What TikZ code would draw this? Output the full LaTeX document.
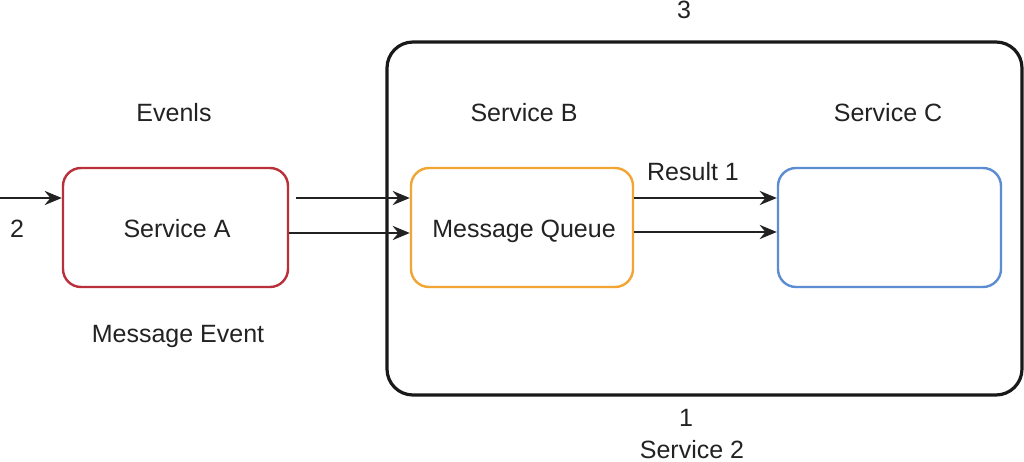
\documentclass[tikz,border=0pt]{standalone}
\usepackage{fontspec}
\setmainfont{Liberation Sans}
\usetikzlibrary{arrows.meta}
\definecolor{cred}{RGB}{185,48,58}
\definecolor{corange}{RGB}{242,165,50}
\definecolor{cblue}{RGB}{92,140,210}
\definecolor{ctext}{RGB}{34,34,34}
\tikzset{
  box/.style={draw, line width=2.4pt, rounded corners=18pt, inner sep=0pt},
  lbl/.style={text=ctext, font=\fontsize{25}{29}\selectfont, inner sep=0pt, anchor=base},
  arr/.style={-{Stealth[length=17pt,width=14pt]}, line width=2.8pt, draw=ctext},
}
\begin{document}
\begin{tikzpicture}[x=1pt,y=-1pt]
\useasboundingbox[fill=white] (0,0) rectangle (1024,462);
\node[box, draw=black!90, line width=3.2pt, rounded corners=26pt, minimum width=635pt, minimum height=353pt] (outer) at (704.5,218.5) {};
\node[box, draw=cred, minimum width=225pt, minimum height=119pt] (A) at (175.5,227.5) {};
\node[box, draw=corange, minimum width=222pt, minimum height=119pt] (B) at (522,227.5) {};
\node[box, draw=cblue, minimum width=223pt, minimum height=119pt] (C) at (889.5,227.5) {};
\node[lbl] (tA) at (177,237) {Service A};
\node[lbl] (tB) at (524,237) {Message Queue};
\node[lbl] (l3) at (684,19) {3};
\node[lbl] (ev) at (174,122) {Evenls};
\node[lbl] (sb) at (524,122) {Service B};
\node[lbl] (sc) at (888,122) {Service C};
\node[lbl] (r1) at (693,181) {Result 1};
\node[lbl] (l2) at (17,237) {2};
\node[lbl] (me) at (178,342) {Message Event};
\node[lbl] (l1) at (686,426) {1};
\node[lbl] (s2) at (692,458) {Service 2};
\coordinate (in) at (0,198);
\coordinate (a1) at (296,198);
\draw[arr] (in) -- (A.west |- in);
\draw[arr] (a1) -- (B.west |- a1);
\draw[arr] (A.east |- 0,233) -- (B.west |- 0,233);
\draw[arr] (B.east |- 0,198) -- (C.west |- 0,198);
\draw[arr] (B.east |- 0,232) -- (C.west |- 0,232);
\end{tikzpicture}
\end{document}
